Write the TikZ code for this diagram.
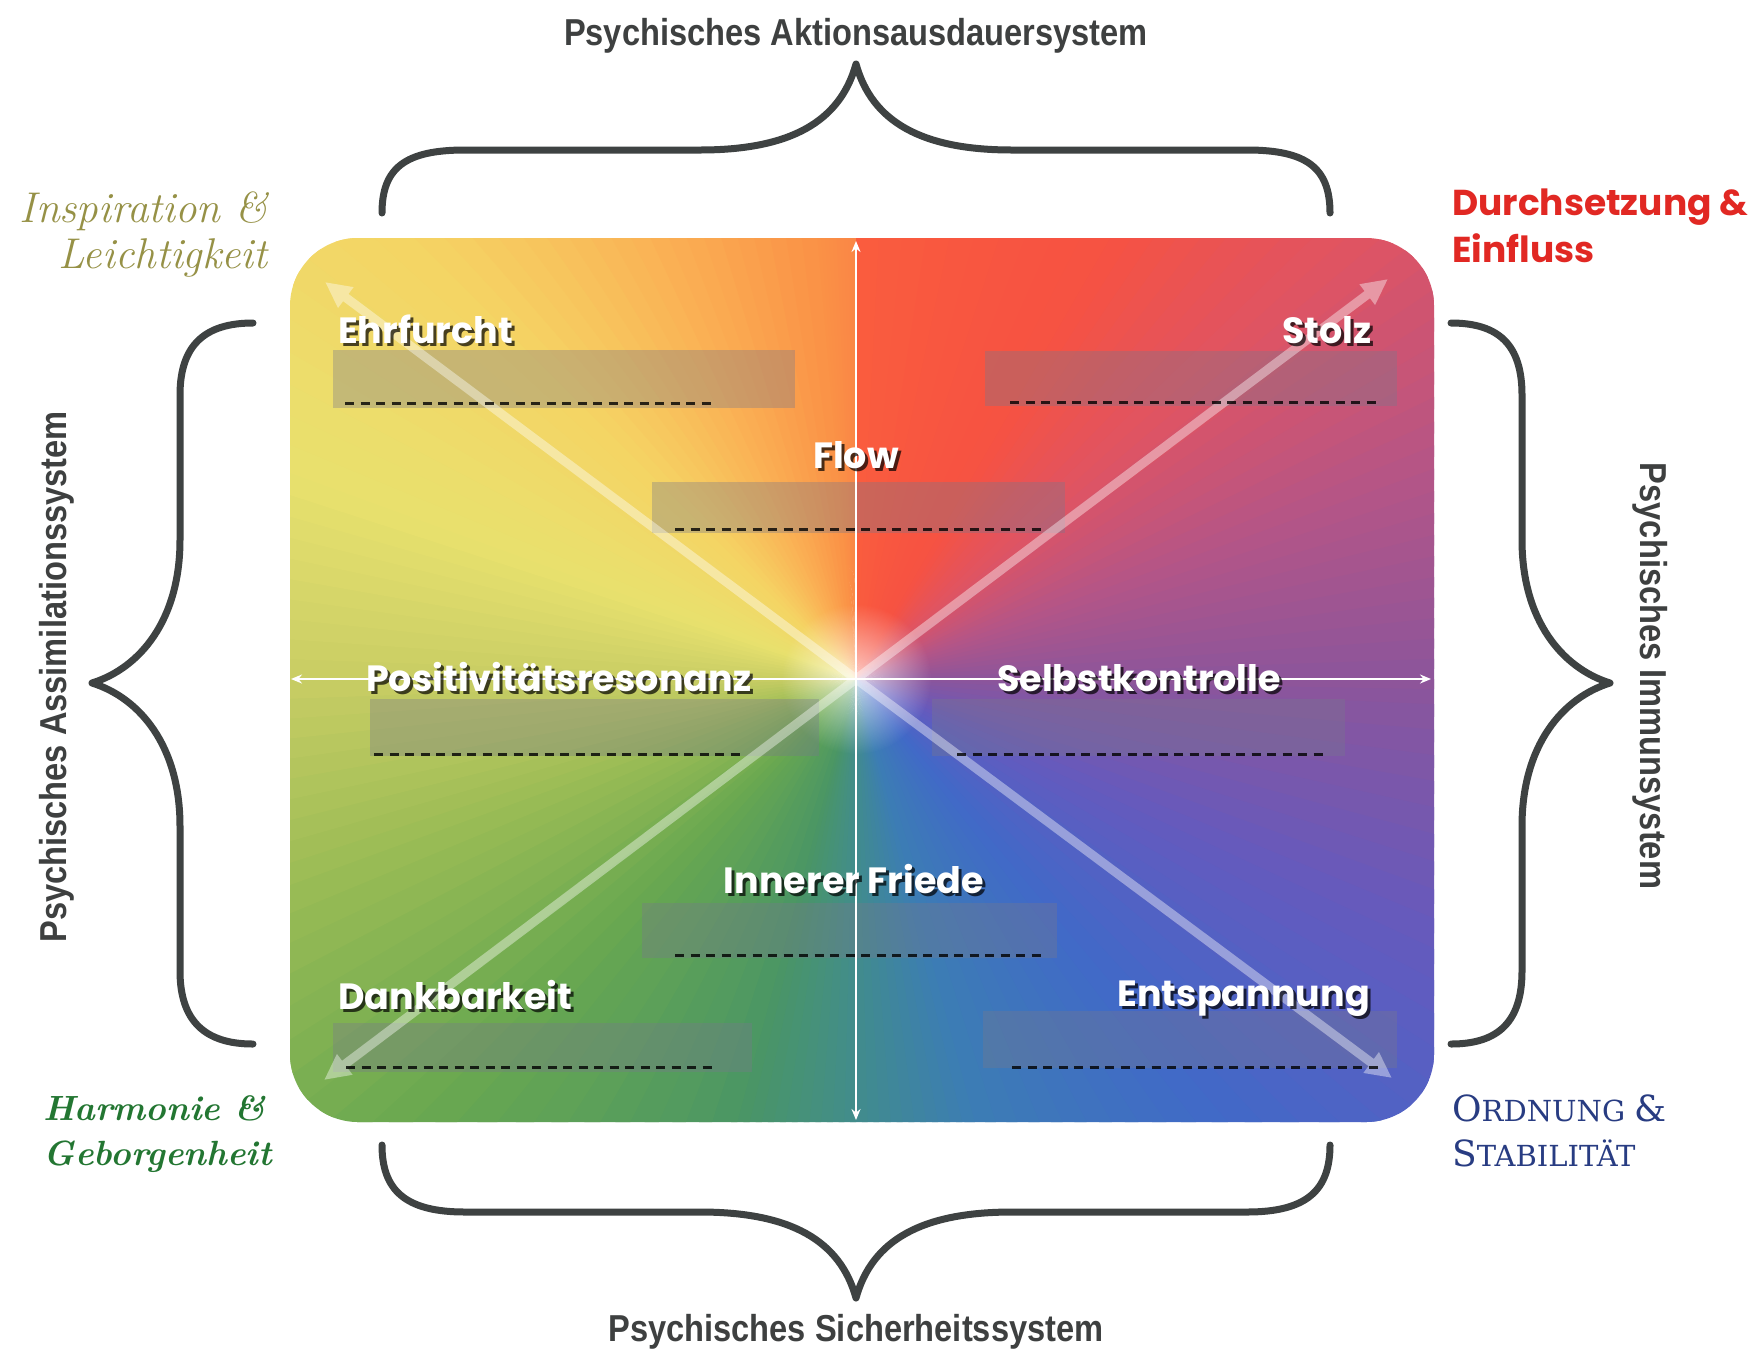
\documentclass[tikz,border=0pt]{standalone}
\usepackage{fontspec}
\usetikzlibrary{arrows.meta,fadings}
\newfontfamily\sysfont[FakeStretch=0.87]{Liberation Sans}
\newfontfamily\popfont{Poppins}
\newfontfamily\djserif{DejaVu Serif}
\newcommand\scbig{\fontsize{36}{40}\selectfont}
\definecolor{sysgray}{RGB}{62,64,64}
\definecolor{bracegray}{RGB}{62,66,66}
\definecolor{olivetxt}{RGB}{150,145,70}
\definecolor{greentxt}{RGB}{35,118,50}
\definecolor{redtxt}{RGB}{225,40,35}
\definecolor{navytxt}{RGB}{40,60,130}
\definecolor{boxgray}{RGB}{120,120,140}
% conic key colours (screen angle, clockwise from east)
\definecolor{g000}{RGB}{140,85,155}
\definecolor{g025}{RGB}{100,90,190}
\definecolor{g050}{RGB}{65,105,200}
\definecolor{g075}{RGB}{60,125,180}
\definecolor{g090}{RGB}{65,140,140}
\definecolor{g105}{RGB}{75,150,100}
\definecolor{g135}{RGB}{105,168,80}
\definecolor{g160}{RGB}{155,188,85}
\definecolor{g180}{RGB}{200,205,100}
\definecolor{g200}{RGB}{232,225,110}
\definecolor{g225}{RGB}{245,212,100}
\definecolor{g245}{RGB}{250,178,85}
\definecolor{g265}{RGB}{250,145,70}
\definecolor{g270}{RGB}{250,135,70}
\definecolor{r270}{RGB}{250,92,62}
\definecolor{g300}{RGB}{246,82,66}
\definecolor{g320}{RGB}{222,84,100}
\definecolor{g340}{RGB}{180,85,135}
\tikzfading[name=glowfade, inner color=transparent!30, outer color=transparent!100]
\tikzset{
  sys/.style={font=\sysfont\bfseries\fontsize{37.5}{42}\selectfont, text=sysgray, inner sep=0pt},
  lbl/.style={font=\popfont\bfseries\fontsize{36.5}{42}\selectfont, text=white, inner sep=0pt},
  lblsh/.style={lbl, text=black, text opacity=0.7},
  bracestyle/.style={draw=bracegray, line width=7pt, line cap=round, line join=round},
  boxstyle/.style={fill=boxgray, fill opacity=0.35},
  dashline/.style={draw=black, draw opacity=0.8, line width=3pt, dash pattern=on 9pt off 6.5pt},
  axisarrow/.style={draw=white, line width=2.2pt, {Stealth[length=11pt,width=9pt]}-{Stealth[length=11pt,width=9pt]}},
  diagarrow/.style={draw=white, line width=9pt, -{Triangle[width=24pt,length=26pt]}},
  insp/.style={font=\itshape\fontsize{43}{48}\selectfont, text=olivetxt, inner sep=0pt},
  harm/.style={font=\bfseries\itshape\fontsize{35}{42}\selectfont, text=greentxt, inner sep=0pt},
  durch/.style={font=\popfont\bfseries\fontsize{36}{42}\selectfont, text=redtxt, inner sep=0pt},
  ordn/.style={font=\djserif\fontsize{29}{33}\selectfont, text=navytxt, inner sep=0pt},
}
\newcommand\qlabel[5]{%
  \node[lblsh, anchor=#4] at (#2+3,#3+3) {#5};
  \node[lbl, anchor=#4] (#1) at (#2,#3) {#5};}
\begin{document}
\begin{tikzpicture}[x=1pt,y=-1pt]
\useasboundingbox (0,0) rectangle (1760,1350);
\fill[white] (0,0) rectangle (1760,1350);

% ---------- coloured field ----------
\coordinate (C) at (856,679);
\begin{scope}
  \clip[rounded corners=68pt] (290,238) rectangle (1434,1122);
  \foreach \aA/\cA/\aB/\cB in {0/g000/25/g025, 25/g025/50/g050, 50/g050/75/g075,
      75/g075/90/g090, 90/g090/105/g105, 105/g105/135/g135, 135/g135/160/g160,
      160/g160/180/g180, 180/g180/200/g200, 200/g200/225/g225, 225/g225/245/g245,
      245/g245/265/g265, 265/g265/270/g270, 270/r270/300/g300, 300/g300/320/g320,
      320/g320/340/g340, 340/g340/360/g000}{
    \foreach \i in {0,...,9}{
      \pgfmathsetmacro\angA{\aA+(\aB-\aA)*\i/10}
      \pgfmathsetmacro\angB{\aA+(\aB-\aA)*(\i+1.5)/10}
      \pgfmathtruncatemacro\pc{95-10*\i}
      \fill[\cA!\pc!\cB] (C) -- +(\angA:1400) -- +(\angB:1400) -- cycle;
    }
  }
  \fill[white, path fading=glowfade] (C) circle (75);
\end{scope}

% ---------- text boxes ----------
\fill[boxstyle] (333,350) rectangle (795,408);
\fill[boxstyle] (985,351) rectangle (1397,406);
\fill[boxstyle] (652,482) rectangle (1065,533);
\fill[boxstyle] (370,699) rectangle (819,756);
\fill[boxstyle] (932,699) rectangle (1345,756);
\fill[boxstyle] (642,903) rectangle (1057,958);
\fill[boxstyle] (333,1023) rectangle (752,1072);
\fill[boxstyle] (983,1011) rectangle (1397,1068);

% ---------- diagonal arrows ----------
\coordinate (dTL) at (325,282);
\coordinate (dTR) at (1388,279);
\coordinate (dBL) at (324,1080);
\coordinate (dBR) at (1392,1078);
\begin{scope}[transparency group, opacity=0.4]
  \draw[diagarrow] (C) -- (dTL);
  \draw[diagarrow] (C) -- (dTR);
  \draw[diagarrow] (C) -- (dBL);
  \draw[diagarrow] (C) -- (dBR);
\end{scope}

% ---------- axes ----------
\coordinate (aT) at (856,241);
\coordinate (aB) at (856,1120);
\coordinate (aL) at (291,679);
\coordinate (aR) at (1431,679);
\draw[axisarrow] (aT) -- (aB);
\draw[axisarrow] (aL) -- (aR);

% ---------- dashed lines ----------
\draw[dashline] (345,403) -- (715,403);
\draw[dashline] (1010,402) -- (1381,402);
\draw[dashline] (675,529) -- (1045,529);
\draw[dashline] (374,754) -- (744,754);
\draw[dashline] (957,754) -- (1324,754);
\draw[dashline] (675,955) -- (1045,955);
\draw[dashline] (346,1067) -- (715,1067);
\draw[dashline] (1012,1067) -- (1381,1067);

% ---------- labels ----------
\qlabel{ehr}{338}{343}{base west}{Ehrfurcht}
\qlabel{stolz}{1372}{343}{base east}{Stolz}
\qlabel{flow}{856}{468}{base}{Flow}
\qlabel{pos}{366}{691}{base west}{Positivitätsresonanz}
\qlabel{selbst}{997}{691}{base west}{Selbstkontrolle}
\qlabel{friede}{854}{893}{base}{Innerer Friede}
\qlabel{dank}{338}{1009}{base west}{Dankbarkeit}
\qlabel{entsp}{1370}{1006}{base east}{Entspannung}

% ---------- braces ----------
\draw[bracestyle] (382,213) .. controls (382,168) and (405,150) .. (465,150) -- (700,150)
  .. controls (790,150) and (840,122) .. (856,64)
  .. controls (872,122) and (922,150) .. (1012,150) -- (1247,150)
  .. controls (1307,150) and (1330,168) .. (1330,213);
\draw[bracestyle] (382,1145) .. controls (382,1190) and (405,1212) .. (465,1212) -- (700,1212)
  .. controls (790,1212) and (840,1240) .. (856,1298)
  .. controls (872,1240) and (922,1212) .. (1012,1212) -- (1247,1212)
  .. controls (1307,1212) and (1330,1190) .. (1330,1145);
\draw[bracestyle] (253,323) .. controls (205,323) and (180,345) .. (180,395) -- (180,540)
  .. controls (180,620) and (140,668) .. (92,683)
  .. controls (140,698) and (180,746) .. (180,826) -- (180,971)
  .. controls (180,1021) and (205,1044) .. (253,1044);
\draw[bracestyle] (1451,323) .. controls (1499,323) and (1522,345) .. (1522,395) -- (1522,540)
  .. controls (1522,620) and (1562,668) .. (1610,683)
  .. controls (1562,698) and (1522,746) .. (1522,826) -- (1522,971)
  .. controls (1522,1021) and (1499,1044) .. (1451,1044);

% ---------- system titles ----------
\node[sys, anchor=base] (sysTop) at (856,45) {Psychisches Aktionsausdauersystem};
\node[sys, anchor=base] (sysBot) at (856,1341) {Psychisches Sicherheitssystem};
\node[sys, anchor=base, rotate=90] (sysLeft) at (66,677) {Psychisches Assimilationssystem};
\node[sys, anchor=base, rotate=-90] (sysRight) at (1640,676) {Psychisches Immunsystem};

% ---------- corner titles ----------
\node[insp, anchor=base east] (insp1) at (268,222) {Inspiration \&};
\node[insp, anchor=base east] (insp2) at (268,268) {Leichtigkeit};
\node[harm, anchor=base east] (harm1) at (266,1120) {Harmonie \&};
\node[harm, anchor=base east] (harm2) at (272,1165) {Geborgenheit};
\node[durch, anchor=base west] (durch1) at (1452,215) {Durchsetzung \&};
\node[durch, anchor=base west] (durch2) at (1452,262) {Einfluss};
\node[ordn, anchor=base west] (ord1) at (1452,1121) {{\scbig O}RDNUNG {\scbig\&}};
\node[ordn, anchor=base west] (ord2) at (1452,1166) {{\scbig S}TABILITÄT};
\end{tikzpicture}
\end{document}
